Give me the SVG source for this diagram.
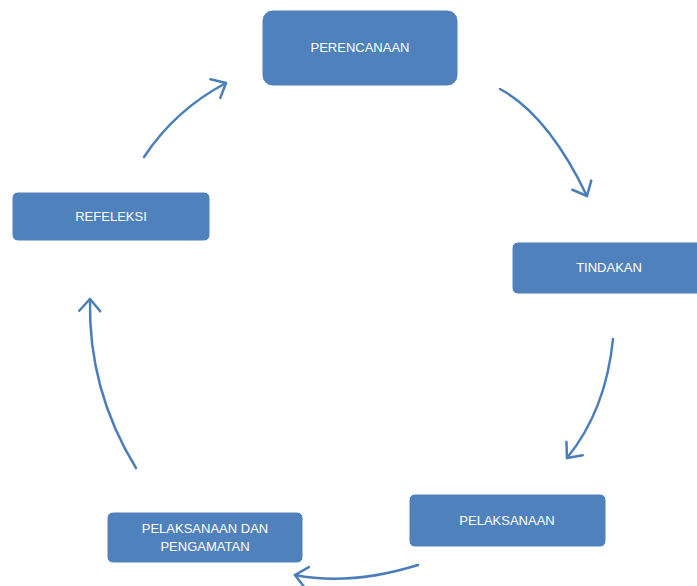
<svg xmlns="http://www.w3.org/2000/svg" width="697" height="586" viewBox="0 0 697 586">
<style>
.box{fill:#4F81BD;stroke:#ffffff;stroke-width:1}
.lbl{fill:#ffffff;font-family:"Liberation Sans",Arial,sans-serif;font-size:13px;text-anchor:middle}
.arc{fill:none;stroke:#4A7EBB;stroke-width:2.5;stroke-linecap:round;marker-end:url(#chev)}
</style>
<defs>
<marker id="chev" markerUnits="userSpaceOnUse" markerWidth="30" markerHeight="30" viewBox="-16 -15 20 30" refX="0" refY="0" orient="auto" overflow="visible">
<path d="M-12,-10.5 L0,0 L-12,10.5" fill="none" stroke="#4A7EBB" stroke-width="2.5" stroke-linecap="round" stroke-linejoin="round"/>
</marker>
</defs>
<rect width="697" height="586" fill="#ffffff"/>
<g id="connectors">
<path class="arc" d="M500,89 Q548,115 587,196"/>
<path class="arc" d="M613,339 Q606,410 567,458"/>
<path class="arc" d="M418,565 Q350,586 295,575"/>
<path class="arc" d="M136,468 Q88,390 90,299"/>
<path class="arc" d="M144,157 Q175,110 226,83"/>
</g>
<g id="perencanaan">
<rect class="box" x="262" y="10" width="196" height="76" rx="11"/>
<text class="lbl" x="360" y="52">PERENCANAAN</text>
</g>
<g id="tindakan">
<rect class="box" x="512" y="242" width="196" height="52" rx="6"/>
<text class="lbl" x="609" y="272">TINDAKAN</text>
</g>
<g id="pelaksanaan">
<rect class="box" x="409" y="494" width="197" height="53" rx="6"/>
<text class="lbl" x="507" y="525">PELAKSANAAN</text>
</g>
<g id="pelaksanaan-pengamatan">
<rect class="box" x="107" y="512" width="196" height="51" rx="6"/>
<text class="lbl" x="205" y="533">PELAKSANAAN DAN</text>
<text class="lbl" x="205" y="551">PENGAMATAN</text>
</g>
<g id="refeleksi">
<rect class="box" x="12" y="192" width="198" height="49" rx="6"/>
<text class="lbl" x="111" y="221">REFELEKSI</text>
</g>
</svg>
